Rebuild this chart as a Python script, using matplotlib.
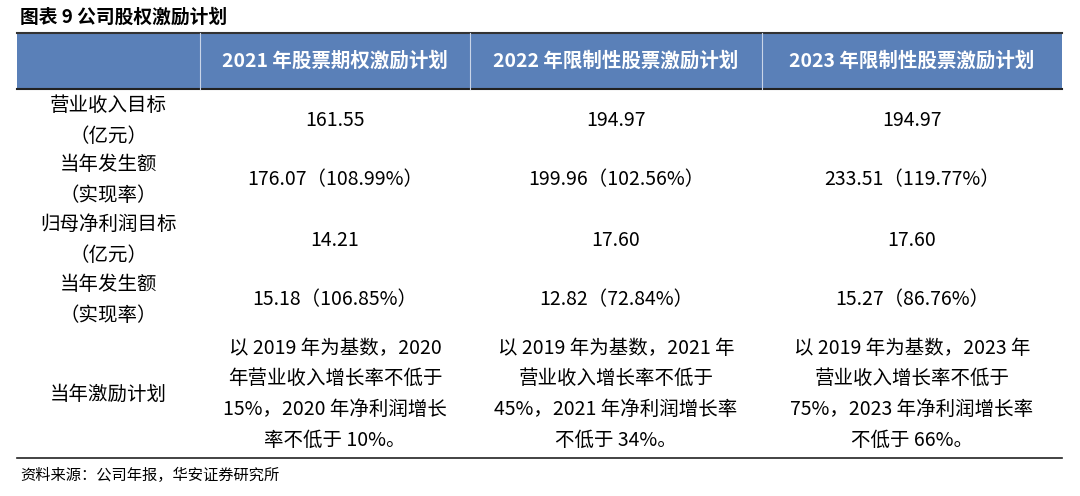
import matplotlib.pyplot as plt
from matplotlib.patches import Rectangle

plt.rcParams['font.family'] = ['Noto Sans CJK SC', 'DejaVu Sans']

title = "图表 9 公司股权激励计划"
source = "资料来源：公司年报，华安证券研究所"
headers = ["", "2021 年股票期权激励计划", "2022 年限制性股票激励计划", "2023 年限制性股票激励计划"]
row_labels = ["营业收入目标\n（亿元）", "当年发生额\n（实现率）", "归母净利润目标\n（亿元）",
              "当年发生额\n（实现率）", "当年激励计划"]
col_2021 = ["161.55", "176.07（108.99%）", "14.21", "15.18（106.85%）",
            "以 2019 年为基数，2020\n年营业收入增长率不低于\n15%，2020 年净利润增长\n率不低于 10%。"]
col_2022 = ["194.97", "199.96（102.56%）", "17.60", "12.82（72.84%）",
            "以 2019 年为基数，2021 年\n营业收入增长率不低于\n45%，2021 年净利润增长率\n不低于 34%。"]
col_2023 = ["194.97", "233.51（119.77%）", "17.60", "15.27（86.76%）",
            "以 2019 年为基数，2023 年\n营业收入增长率不低于\n75%，2023 年净利润增长率\n不低于 66%。"]

col_edges = [17, 200, 470, 762, 1062]
row_edges = [92, 150, 210, 270, 330, 458]

fig = plt.figure(figsize=(10.8, 4.96), dpi=100)
ax = fig.add_axes([0, 0, 1, 1])
ax.set_xlim(0, 1080)
ax.set_ylim(496, 0)
ax.axis('off')

ax.text(20, 17, title, fontsize=13.5, fontweight='bold', va='center', ha='left')
ax.add_patch(Rectangle((17, 33), 1045, 56, color='#5a80b8', lw=0))
ax.plot([17, 1062], [33, 33], color='#333333', lw=1.5)
ax.plot([17, 1062], [89, 89], color='#222222', lw=1.5)
ax.plot([17, 1062], [458, 458], color='#222222', lw=1.2)
for x in col_edges[1:-1]:
    ax.plot([x, x], [33, 89], color='#c9d5e8', lw=0.8)

for i, h in enumerate(headers):
    xc = (col_edges[i] + col_edges[i + 1]) / 2
    ax.text(xc, 61, h, fontsize=14, fontweight='bold', color='white', ha='center', va='center')

cols = [row_labels, col_2021, col_2022, col_2023]
for j, col in enumerate(cols):
    xc = (col_edges[j] + col_edges[j + 1]) / 2
    for i, val in enumerate(col):
        yc = (row_edges[i] + row_edges[i + 1]) / 2
        ax.text(xc, yc, val, fontsize=14, ha='center', va='center',
                fontweight='medium' if j == 0 else 'normal',
                linespacing=1.6, color='black')

ax.text(20, 475, source, fontsize=11, va='center', ha='left')
fig.savefig('out.png', dpi=100)
